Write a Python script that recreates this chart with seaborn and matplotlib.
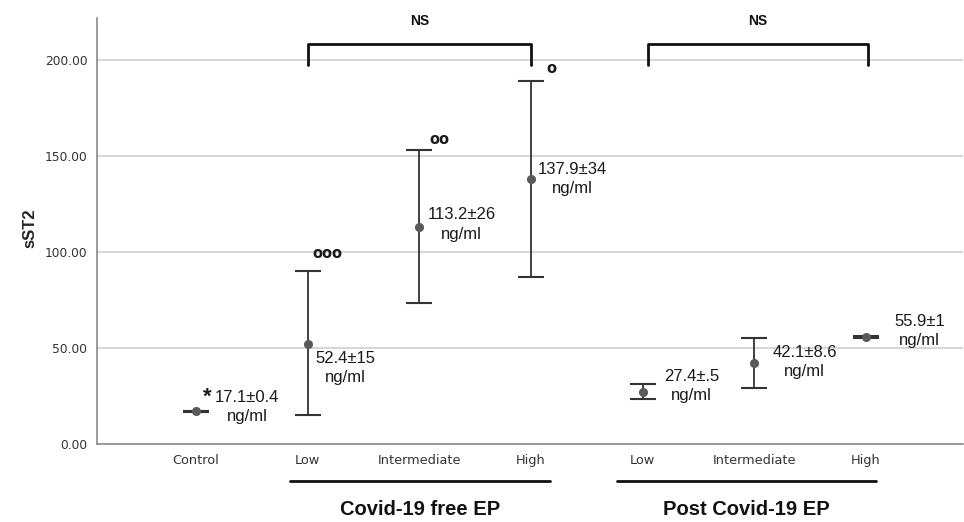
import matplotlib
matplotlib.use("Agg")
import matplotlib.pyplot as plt
import seaborn as sns
import pandas as pd
import numpy as np

# data
groups = ["Control", "Free Low", "Free Intermediate", "Free High",
          "Post Low", "Post Intermediate", "Post High"]
tick_labels = ["Control", "Low", "Intermediate", "High", "Low", "Intermediate", "High"]
means = [17.1, 52.4, 113.2, 137.9, 27.4, 42.1, 55.9]
lower = [16.7, 15.0, 73.5, 87.0, 23.5, 29.2, 55.3]
upper = [17.5, 90.3, 153.0, 189.0, 31.3, 55.3, 56.5]
labels = ["17.1±0.4\nng/ml", "52.4±15\nng/ml", "113.2±26\nng/ml", "137.9±34\nng/ml",
          "27.4±.5\nng/ml", "42.1±8.6\nng/ml", "55.9±1\nng/ml"]
label_dx = [0.46, 0.34, 0.38, 0.37, 0.44, 0.45, 0.48]
label_y = [19.3, 39.7, 114.4, 138.0, 30.3, 42.8, 59.0]
marks = {1: ("ooo", 99.5), 2: ("oo", 158.5), 3: ("o", 195.5)}
group_names = ["Covid-19 free EP", "Post Covid-19 EP"]

df = pd.DataFrame({"group": groups, "mean": means})

sns.set_style("white")
plt.rcParams["font.family"] = ["Liberation Sans", "DejaVu Sans"]

fig = plt.figure(figsize=(9.64, 5.22), dpi=100)
ax = fig.add_axes([0.1006, 0.149, 0.8984, 0.8165])

ax.set_ylim(0, 222)
ax.yaxis.grid(True, color="#cfcfcf", linewidth=1.2)
ax.set_axisbelow(True)

pos = np.arange(len(groups))
err = [np.array(means) - np.array(lower), np.array(upper) - np.array(means)]
ax.errorbar(pos, means, yerr=err, fmt="none", ecolor="#333333",
            elinewidth=1.3, capsize=9.5, capthick=1.5, zorder=3)
sns.pointplot(data=df, x="group", y="mean", linestyle="none", errorbar=None,
              color="#5a5a5a", markersize=4.5, ax=ax, zorder=4)

ax.set_xlim(-0.886, 6.87)
ax.set_ylim(0, 222)
ax.set_xticks(pos)
ax.set_xticklabels(tick_labels, family="DejaVu Sans", fontsize=9.3, color="#333333")
ax.set_yticks([0, 50, 100, 150, 200])
ax.set_yticklabels([f"{v:.2f}" for v in [0, 50, 100, 150, 200]],
                   family="DejaVu Sans", fontsize=8.8, color="#333333")
ax.tick_params(axis="both", length=0, pad=7)
ax.set_xlabel("")
ax.set_ylabel("sST2", fontsize=12, fontweight="bold")
ax.yaxis.set_label_coords(-0.069, 0.507)

for side in ["top", "right"]:
    ax.spines[side].set_visible(False)
for side in ["left", "bottom"]:
    ax.spines[side].set_color("#8a8a8a")
    ax.spines[side].set_linewidth(1.2)

# value labels
for i, (txt, dx, ly) in enumerate(zip(labels, label_dx, label_y)):
    ax.text(i + dx, ly, txt, ha="center", va="center", fontsize=12,
            color="#1a1a1a", linespacing=1.35)
ax.text(0.1, 24.5, "*", ha="center", va="center", fontsize=16,
        fontweight="bold", color="#1a1a1a")

# significance circles
for i, (txt, yy) in marks.items():
    ax.text(i + 0.18, yy, txt, ha="center", va="center", fontsize=10.5,
            fontweight="bold", color="#1a1a1a", family="DejaVu Sans")

# NS brackets
for x0, x1 in [(1.0, 3.0), (4.05, 6.02)]:
    ax.plot([x0, x0, x1, x1], [197.5, 208.5, 208.5, 197.5], color="#111111",
            linewidth=2, clip_on=False, zorder=5)
    ax.text((x0 + x1) / 2, 220.5, "NS", ha="center", va="center", fontsize=10,
            fontweight="bold", color="#111111")

# group underlines and names below the axis
trans = ax.get_xaxis_transform()
for (x0, x1), name in zip([(0.84, 3.17), (3.77, 6.09)], group_names):
    ax.plot([x0, x1], [-0.087, -0.087], color="#111111", linewidth=2,
            transform=trans, clip_on=False)
    ax.text((x0 + x1) / 2, -0.152, name, transform=trans, ha="center",
            va="center", fontsize=14.5, fontweight="bold", color="#111111")

fig.savefig("out.png", dpi=100)
